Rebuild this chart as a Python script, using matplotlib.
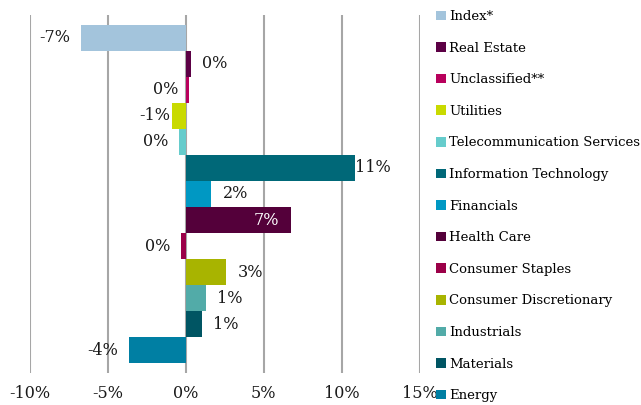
import matplotlib.pyplot as plt
from matplotlib.patches import Patch

# sector contributions (%), top to bottom
sectors = ['Index*', 'Real Estate', 'Unclassified**', 'Utilities',
           'Telecommunication Services', 'Information Technology', 'Financials',
           'Health Care', 'Consumer Staples', 'Consumer Discretionary',
           'Industrials', 'Materials', 'Energy']
values = [-6.7, 0.33, 0.22, -0.87, -0.42, 10.88, 1.64, 6.77, -0.29, 2.6, 1.32, 1.06, -3.63]
labels = ['-7%', '0%', '0%', '-1%', '0%', '11%', '2%', '7%', '0%', '3%', '1%', '1%', '-4%']
colors = ['#A3C4DC', '#5C0045', '#B8005C', '#C9DA00', '#66CCCC', '#006878', '#0098C3',
          '#54003A', '#9B0048', '#A8B400', '#52ABA8', '#005563', '#007FA3']
xticks = [-10, -5, 0, 5, 10, 15]

# label placement: offset in points from bar end (negative = left of anchor)
label_dx = [-8, 8, -5, -1.5, -8, 0.01, 8, -9, -8, 8, 8, 8, -8]
label_anchor_zero = [False, False, True, False, False, False, False, False, False, False, False, False, False]

plt.rcParams['font.family'] = ['DejaVu Serif']

fig = plt.figure(figsize=(6.41, 4.05), dpi=100)
ax = fig.add_axes([30 / 641, 1 - 373 / 405, 389.5 / 641, 358 / 405])

n = len(values)
ypos = list(range(n))
ax.barh(ypos, values, height=1.0, color=colors, zorder=2)

for i, (v, lab) in enumerate(zip(values, labels)):
    x0 = 0 if label_anchor_zero[i] else v
    dx = label_dx[i]
    ha = 'left' if dx > 0 else 'right'
    col = 'white' if sectors[i] == 'Health Care' else '#1a1a1a'
    ax.annotate(lab, (x0, i), xytext=(dx, 0), textcoords='offset points',
                ha=ha, va='center', fontsize=11.5, color=col, zorder=3)

ax.set_xlim(-10, 15)
ax.set_ylim(n - 1 + 0.87, -0.87)
ax.set_xticks(xticks)
ax.set_xticklabels([f'{t}%' for t in xticks], fontsize=11.5, color='#1a1a1a')
ax.set_yticks([])
ax.tick_params(axis='x', length=0, pad=9)
ax.grid(axis='x', color='#A6A6A6', linewidth=1.5, zorder=0)
for s in ax.spines.values():
    s.set_visible(False)

handles = [Patch(facecolor=c, edgecolor='none') for c in colors]
fig.legend(handles, sectors, loc='upper left', bbox_to_anchor=(436 / 641, 1 - 10 / 405),
           frameon=False, fontsize=9.5, handlelength=0.75, handleheight=0.75,
           handletextpad=0.25, labelspacing=1.41, borderaxespad=0, borderpad=0)

fig.savefig('out.png', dpi=100)
